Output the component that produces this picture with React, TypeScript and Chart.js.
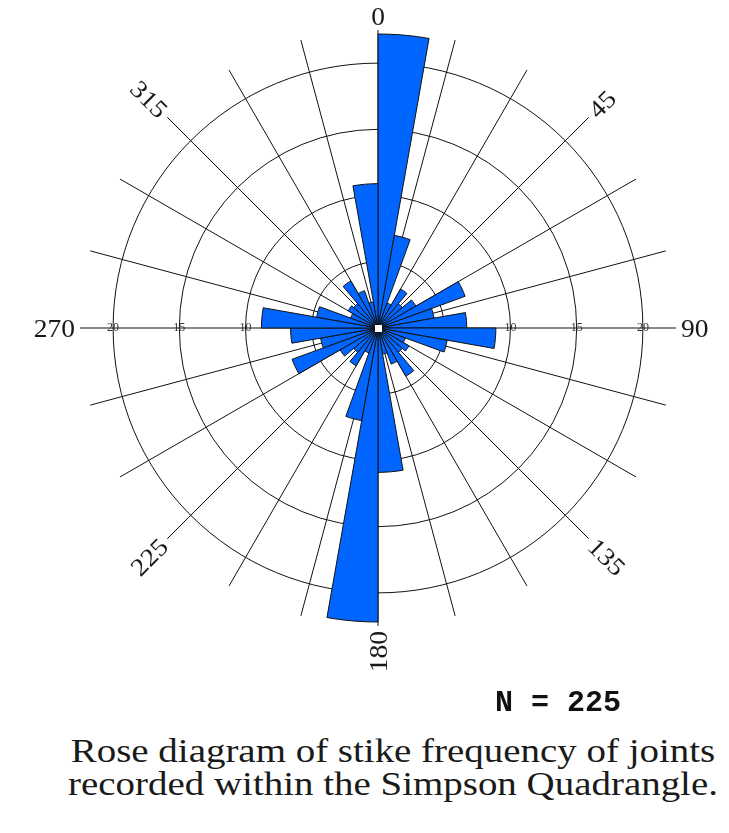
import React, { useEffect, useRef } from 'react';
import { Chart, registerables } from 'chart.js';

Chart.register(...registerables);

// 10-degree strike bins, clockwise from north
const BIN_LABELS = [
  '0-10', '10-20', '20-30', '30-40', '40-50', '50-60', '60-70', '70-80', '80-90',
  '90-100', '100-110', '110-120', '120-130', '130-140', '140-150', '150-160', '160-170', '170-180',
  '180-190', '190-200', '200-210', '210-220', '220-230', '230-240', '240-250', '250-260', '260-270',
  '270-280', '280-290', '290-300', '300-310', '310-320', '320-330', '330-340', '340-350', '350-360',
];

// frequency (percent of N)
const FREQUENCY_PCT = [
  22.2, 7.1, 2.0, 3.4, 2.4, 3.3, 7.0, 4.3, 6.7,
  8.9, 5.3, 2.2, 2.7, 2.4, 4.2, 2.9, 2.0, 10.9,
  22.2, 7.1, 2.0, 3.3, 2.4, 3.3, 6.9, 4.4, 6.6,
  8.8, 4.7, 2.2, 2.6, 2.4, 4.1, 3.0, 2.0, 10.9,
];

// radial spokes every 15 degrees
const SPOKE_LABELS = [
  '0', '15', '30', '45', '60', '75', '90', '105', '120', '135', '150', '165',
  '180', '195', '210', '225', '240', '255', '270', '285', '300', '315', '330', '345',
];

const RING_VALUES = [0, 5, 10, 15, 20];
const RING_TICK_LABELS = ['10', '15', '20'];
const SCALE_MAX = 22.5;

const AXIS_LABELS = ['0', '45', '90', '135', '180', '225', '270', '315'];
const AXIS_BEARINGS = [0, 45, 90, 135, 180, 225, 270, 315];

const BIN_WIDTH_DEG = 10;
const TOTAL_N = 225;

const BAR_COLOR = '#0066ff';
const LINE_COLOR = '#111111';
const SERIF = '"Liberation Serif", "Times New Roman", serif';

const roseDecorations = {
  id: 'roseDecorations',
  afterDatasetsDraw(chart: any) {
    const scale = chart.scales.r;
    const ctx = chart.ctx;
    ctx.save();
    // small white hub in the centre
    ctx.fillStyle = '#ffffff';
    ctx.fillRect(scale.xCenter - 3, scale.yCenter - 3, 7, 7);

    // ring values along the east-west axis
    ctx.fillStyle = '#333333';
    ctx.font = '12px ' + SERIF;
    ctx.textAlign = 'center';
    ctx.textBaseline = 'middle';
    RING_TICK_LABELS.forEach((t) => {
      const d = scale.getDistanceFromCenterForValue(Number(t));
      ctx.fillText(t, scale.xCenter + d, scale.yCenter);
      ctx.fillText(t, scale.xCenter - d, scale.yCenter);
    });

    // compass labels
    const fontSize = 25;
    ctx.font = fontSize + 'px ' + SERIF;
    ctx.fillStyle = '#1a1a1a';
    ctx.textBaseline = 'alphabetic';
    const outer = scale.getDistanceFromCenterForValue(SCALE_MAX);
    const step = 360 / SPOKE_LABELS.length;
    AXIS_BEARINGS.forEach((b, i) => {
      const text = AXIS_LABELS[i];
      const rotDeg = b === 0 ? 0 : b < 180 ? b - 90 : b - 270;
      const rot = (rotDeg * Math.PI) / 180;
      const br = (b * Math.PI) / 180;
      const ux = Math.sin(br);
      const uy = -Math.cos(br);
      const w = ctx.measureText(text).width * 1.1;
      const h = fontSize * 0.68;
      const e1 = Math.abs(ux * Math.cos(rot) + uy * Math.sin(rot));
      const e2 = Math.abs(-ux * Math.sin(rot) + uy * Math.cos(rot));
      const half = (e1 * w) / 2 + (e2 * h) / 2;
      const pos = scale.getPointPosition(b / step, outer + 5 + half);
      ctx.save();
      ctx.translate(pos.x, pos.y);
      ctx.rotate(rot);
      ctx.scale(1.1, 1);
      ctx.fillText(text, 0, h / 2);
      ctx.restore();
    });
    ctx.restore();
  },
};

export default function App() {
  const canvasRef = useRef<HTMLCanvasElement | null>(null);

  useEffect(() => {
    if (!canvasRef.current) return;
    const chart = new Chart(canvasRef.current, {
      type: 'polarArea',
      data: {
        labels: SPOKE_LABELS,
        datasets: [
          {
            label: 'Strike frequency (%)',
            data: FREQUENCY_PCT,
            angle: BIN_WIDTH_DEG,
            backgroundColor: BAR_COLOR,
            borderColor: LINE_COLOR,
            borderWidth: 1,
          } as any,
        ],
      },
      options: {
        animation: false,
        responsive: false,
        maintainAspectRatio: false,
        layout: { padding: { left: 80, right: 53, top: 30, bottom: 74 } },
        plugins: { legend: { display: false }, tooltip: { enabled: false } },
        scales: {
          r: {
            min: 0,
            max: SCALE_MAX,
            startAngle: 0,
            afterBuildTicks: (scale: any) => {
              scale.ticks = RING_VALUES.map((v) => ({ value: v }));
            },
            ticks: { display: false },
            grid: { circular: true, color: LINE_COLOR, lineWidth: 1 },
            angleLines: { display: true, color: LINE_COLOR, lineWidth: 1 },
            pointLabels: { display: false },
          } as any,
        },
      },
      plugins: [roseDecorations],
    });
    return () => chart.destroy();
  }, []);

  return (
    <div style={{ position: 'absolute', left: 0, top: 0, width: 729, height: 833, overflow: 'hidden', background: '#fff' }}>
      <canvas ref={canvasRef} width={729} height={700} style={{ position: 'absolute', left: 0, top: 0, display: 'block' }} />
      <div
        style={{
          position: 'absolute', left: 495, top: 688, fontFamily: '"Liberation Mono", "Courier New", monospace',
          fontWeight: 'bold', fontSize: 30, lineHeight: '30px', color: '#111', whiteSpace: 'nowrap',
        }}
      >
        {'N = ' + TOTAL_N}
      </div>
      <div
        style={{
          position: 'absolute', left: 0, top: 735, width: 786, textAlign: 'center', fontFamily: SERIF,
          fontSize: 33, lineHeight: '33.4px', color: '#1a1a1a', whiteSpace: 'nowrap',
          transform: 'scaleX(1.18)', transformOrigin: '393px 0',
        }}
      >
        <div>Rose diagram of stike frequency of joints</div>
        <div>recorded within the Simpson Quadrangle.</div>
      </div>
    </div>
  );
}
